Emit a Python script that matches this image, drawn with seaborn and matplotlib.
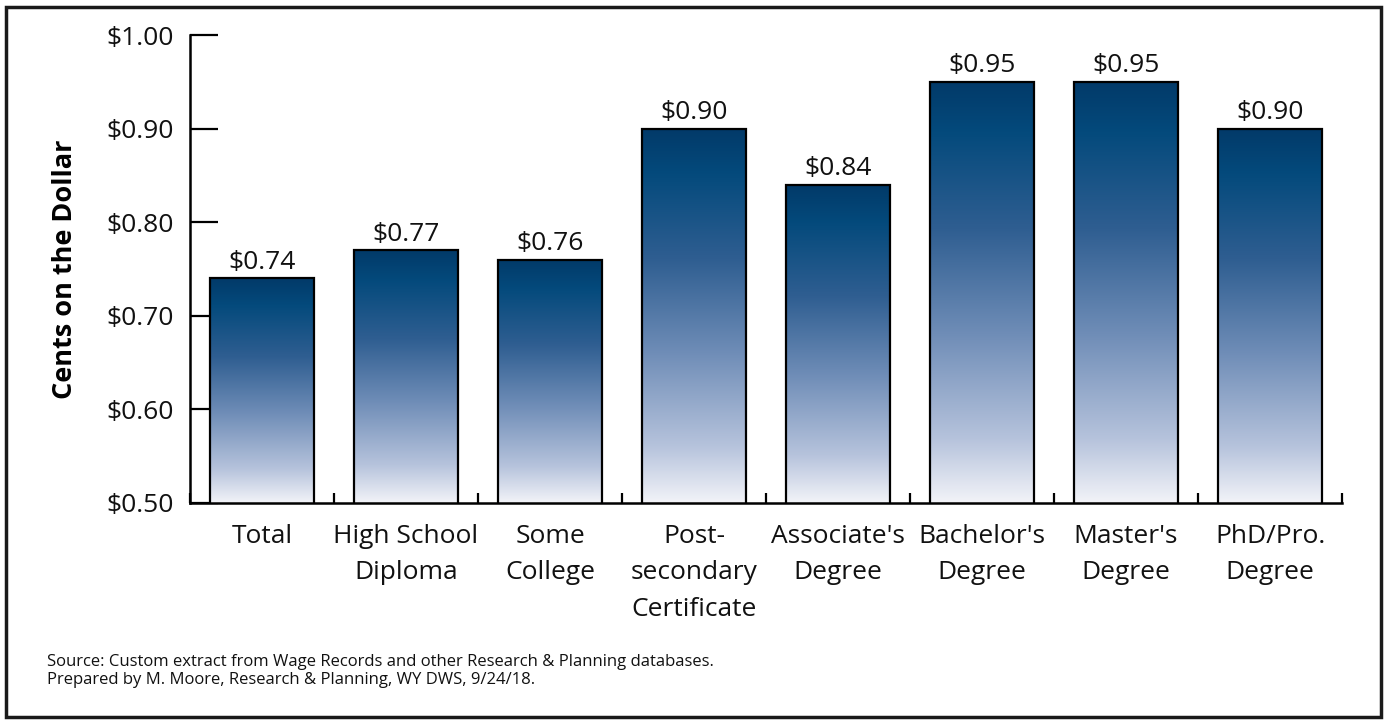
import numpy as np
import pandas as pd
import matplotlib
matplotlib.use("Agg")
import matplotlib.pyplot as plt
import seaborn as sns
from matplotlib.colors import LinearSegmentedColormap
from matplotlib.patches import Rectangle

categories = ["Total", "High School\nDiploma", "Some\nCollege", "Post-\nsecondary\nCertificate",
              "Associate's\nDegree", "Bachelor's\nDegree", "Master's\nDegree", "PhD/Pro.\nDegree"]
values = [0.74, 0.77, 0.76, 0.90, 0.84, 0.95, 0.95, 0.90]
value_labels = ["$0.74", "$0.77", "$0.76", "$0.90", "$0.84", "$0.95", "$0.95", "$0.90"]
yticks = [0.50, 0.60, 0.70, 0.80, 0.90, 1.00]
ytick_labels = ["$0.50", "$0.60", "$0.70", "$0.80", "$0.90", "$1.00"]

sns.set_theme(style="white")
plt.rcParams['font.family'] = ['Open Sans', 'DejaVu Sans']

df = pd.DataFrame({"cat": categories, "val": values})

fig = plt.figure(figsize=(13.87, 7.21), dpi=100)
ax = fig.add_axes([0.137, 0.3024, 0.8306, 0.649])

sns.barplot(data=df, x="cat", y="val", ax=ax, width=0.72,
            facecolor="none", edgecolor="black", linewidth=1.6)

cmap = LinearSegmentedColormap.from_list("grad", [
    (0.0, "#023A69"), (0.12, "#044A7C"), (0.35, "#2F5E91"),
    (0.6, "#6F8DB7"), (0.85, "#B6C3DC"), (1.0, "#F2F3F8")])
grad = np.linspace(0, 1, 256).reshape(-1, 1)
ymin = 0.5
for p in ax.patches:
    x0 = p.get_x()
    w = p.get_width()
    top = p.get_y() + p.get_height()
    im = ax.imshow(grad, cmap=cmap, aspect="auto", extent=(x0, x0 + w, ymin, top),
                   origin="upper", zorder=1, interpolation="bicubic")
    clip = Rectangle((x0, ymin), w, top - ymin, transform=ax.transData)
    im.set_clip_path(clip)
    p.set_zorder(2)

for i, (v, lab) in enumerate(zip(values, value_labels)):
    ax.text(i, v + 0.004, lab, ha="center", va="bottom", fontsize=19, color="#111111")

ax.set_axisbelow(True)
ax.set_xlim(-0.5, len(categories) - 0.5)
ax.set_ylim(0.5, 1.0)
ax.set_yticks(yticks)
ax.set_yticklabels(ytick_labels, fontsize=19, color="#111111")
ax.set_xticks(range(len(categories)))
ax.set_xticklabels(categories, fontsize=19, color="#111111", linespacing=1.6)
ax.set_xticks(np.arange(-0.5, len(categories) + 0.5, 1.0), minor=True)
ax.tick_params(axis="x", which="major", length=0, pad=15, bottom=True)
ax.tick_params(axis="x", which="minor", direction="in", length=7.5, width=1.6,
               color="black", bottom=True)
ax.tick_params(axis="y", which="major", direction="in", length=20, width=1.6,
               color="black", pad=12, left=True)
ax.set_xlabel("")
ax.set_ylabel("Cents on the Dollar", fontsize=19.5, fontweight="bold", labelpad=20, color="black")

for side in ["top", "right"]:
    ax.spines[side].set_visible(False)
for side in ["left", "bottom"]:
    ax.spines[side].set_color("black")
    ax.spines[side].set_linewidth(1.8)

fig.text(0.034, 0.046, "Source: Custom extract from Wage Records and other Research & Planning databases.\n"
         "Prepared by M. Moore, Research & Planning, WY DWS, 9/24/18.",
         fontsize=12, ha="left", va="bottom", color="#111111", linespacing=1.15)

border = Rectangle((0.004, 0.006), 0.992, 0.984, transform=fig.transFigure,
                   fill=False, edgecolor="#1a1a1a", linewidth=2.5)
fig.patches.append(border)

fig.savefig("out.png", dpi=100)
